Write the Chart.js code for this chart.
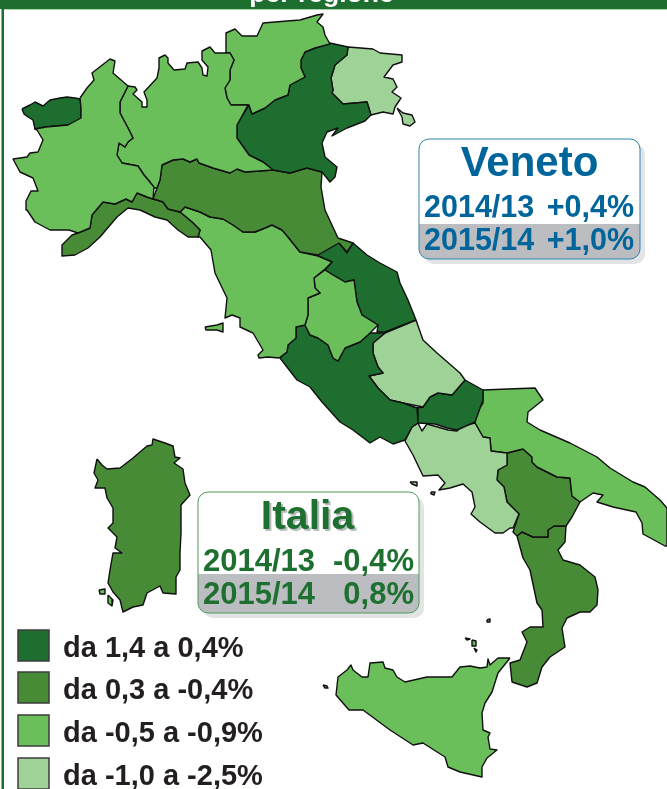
<!DOCTYPE html>
<html><head><meta charset="utf-8">
<style>html,body{margin:0;padding:0;background:#fff}canvas{display:block}</style>
<script src="https://cdn.jsdelivr.net/npm/chart.js@4"></script></head>
<body><canvas id="c" width="667" height="789"></canvas>
<script>
// Region outlines (x, y in map units)
const valleAosta=[22,109,30,105,35,102,43,106,50,100,60,98,67,97,75,98,80,99,81,108,81,118,76,122,68,125,55,126,46,127,35,129,33,120,28,117,24,114];
const piemonte=[80,98,87,88,94,80,92,73,110,59,115,61,113,73,128,86,120,102,120,113,128,128,133,138,128,142,125,147,119,143,117,155,122,163,138,166,144,175,154,187,153,199,147,197,137,193,132,202,126,199,115,204,103,202,92,215,90,228,78,233,69,230,50,230,35,222,27,210,26,201,31,191,38,191,33,178,20,172,13,159,27,157,30,153,38,152,43,140,37,130,35,129,46,127,68,125,81,118,81,108];
const lombardia=[128,86,135,87,137,90,133,94,142,102,142,107,147,107,147,100,144,92,157,78,159,68,159,58,165,55,168,58,168,63,174,70,185,69,187,63,198,62,202,68,203,75,207,76,208,67,202,60,202,51,210,47,215,53,230,53,234,60,230,70,230,80,225,88,227,98,231,105,248,105,237,125,237,138,249,155,263,162,273,170,245,172,237,169,230,173,213,168,199,163,197,159,190,162,183,159,173,160,162,165,160,180,157,188,153,188,150,182,144,175,138,166,122,163,117,155,119,143,125,147,128,142,133,138,128,128,120,113,120,102];
const trentino=[225,53,226,33,235,29,242,36,257,36,263,23,287,21,300,20,317,15,323,14,317,22,323,27,325,35,330,44,315,48,305,52,301,60,301,68,305,77,290,85,288,95,275,100,265,108,252,114,249,105,231,105,227,98,225,88,230,80,230,70,234,60,230,53];
const veneto=[330,43,348,47,347,55,335,65,331,78,333,90,332,93,343,104,367,102,371,115,365,121,347,128,332,136,338,128,327,132,322,143,325,157,337,167,335,177,330,182,322,172,307,168,290,173,273,170,263,162,249,155,237,138,237,125,249,105,252,114,265,108,275,100,288,95,290,85,305,77,301,68,301,60,305,52,315,48];
const friuli=[348,47,373,49,380,53,402,55,402,62,393,65,384,77,393,79,397,87,392,92,401,98,395,107,393,114,383,112,371,115,367,102,343,104,332,93,333,90,331,78,335,65,347,55];
const trieste=[397,108,403,113,412,115,415,122,410,126,403,124,402,117];
const emilia=[153,199,157,188,160,180,162,165,173,160,183,159,190,162,197,159,199,163,213,168,230,173,237,169,245,172,273,170,290,173,307,168,322,172,321,187,325,210,338,238,353,243,347,252,339,243,318,255,300,252,288,237,282,230,272,225,265,228,255,232,243,232,233,225,223,219,210,217,200,212,185,207,180,212,168,209,163,202,157,200];
const liguria=[153,199,147,197,137,193,132,202,126,199,115,204,103,202,92,215,90,228,78,233,72,235,62,245,62,256,75,255,88,248,100,237,117,217,128,208,140,210,155,217,167,220,178,230,188,237,198,237,200,230,192,222,180,212,168,209,163,202,157,200];
const toscana=[180,212,185,207,200,212,210,217,223,219,233,225,243,232,255,232,265,228,272,225,282,230,288,237,300,252,318,256,332,262,325,269,314,278,315,288,320,293,308,298,308,315,305,325,296,327,296,338,288,345,287,352,279,358,268,357,259,358,258,355,263,350,253,333,240,327,240,318,232,315,225,318,227,298,215,273,211,250,200,237,198,237,200,230,192,222];
const elba=[205,327,217,325,223,323,223,328,223,332,217,330,206,330];
const umbria=[325,270,333,275,345,282,354,280,357,302,362,315,378,325,370,333,360,342,345,348,338,361,333,358,328,345,318,338,310,335,305,325,308,315,308,298,320,293,315,288,314,278];
const marche=[318,256,318,252,332,245,339,243,347,253,353,243,367,255,380,263,397,272,400,283,408,300,416,320,385,332,377,332,378,325,362,315,357,302,354,280,345,282,333,275,325,270,332,262];
const abruzzo=[416,320,423,340,437,353,460,373,465,380,452,395,438,393,430,397,423,407,403,403,390,400,378,388,369,376,383,373,378,367,373,353,373,343,385,333];
const lazio=[296,327,305,325,310,335,318,338,328,345,333,358,338,361,345,348,360,342,370,333,385,333,373,343,373,353,378,367,383,373,369,376,378,388,390,400,403,403,417,408,418,423,412,427,405,440,393,444,380,437,370,443,353,430,340,422,322,402,310,387,297,380,280,358,287,352,288,345,296,338];
const molise=[465,380,483,390,483,400,475,422,457,430,447,428,435,424,418,423,417,408,423,407,430,397,438,393,452,395];
const campania=[418,423,422,431,427,424,448,430,457,431,462,426,475,423,483,437,490,438,491,451,507,453,507,465,498,470,497,480,504,487,507,502,519,514,513,528,510,528,503,533,495,533,480,522,471,514,475,507,472,492,463,484,450,488,439,490,445,483,438,475,423,476,413,455,405,441,412,427];
const puglia=[483,390,508,389,535,388,543,400,528,412,527,422,540,430,570,443,597,457,610,468,633,482,645,487,660,500,667,508,667,546,665,546,643,534,642,523,636,512,613,507,597,502,603,495,593,493,580,502,572,496,570,478,557,477,537,467,532,462,532,457,523,449,507,453,491,451,490,438,483,437,475,423,477,412,483,403];
const basilicata=[507,453,523,449,532,457,532,462,537,467,557,477,570,478,572,496,580,502,572,517,566,526,554,526,548,530,548,537,533,537,522,532,517,536,513,532,519,514,507,502,504,487,497,480,498,470,507,465];
const calabria=[517,536,522,532,533,537,548,537,548,530,554,526,566,526,565,542,558,550,563,560,580,565,595,577,598,590,597,605,590,612,580,612,567,618,562,628,565,647,550,657,542,667,537,683,527,687,512,682,510,663,520,660,527,642,522,632,530,627,543,627,542,610,537,603,530,570,523,558];
const sicilia=[510,658,498,658,490,665,488,659,487,667,480,668,470,666,460,667,452,677,443,677,427,677,405,682,397,677,393,670,385,668,383,662,370,663,368,677,362,677,353,670,351,665,347,670,338,677,336,695,349,710,363,710,390,730,413,745,423,743,445,757,448,767,460,772,482,777,482,767,487,758,497,750,490,749,488,737,490,733,483,730,482,713,485,703,492,692,498,673];
const egadi=[323,685,327,686,328,688,325,688];
const eolie1=[487,620,490,619,490,622,487,622];
const eolie2=[465,638,470,639,467,640];
const eolie3=[472,640,476,641,476,646,472,646];
const eolie4=[474,648,477,650,476,652];
const ischia=[410,482,417,482,417,486,412,484];
const capri=[431,492,435,492,434,495,432,494];
const sardegna=[97,459,102,465,107,469,120,468,133,458,147,446,152,445,153,439,165,443,173,446,175,457,180,458,174,463,183,469,185,483,190,495,181,505,181,533,180,553,180,570,176,577,176,594,163,593,160,586,147,593,143,605,133,607,123,612,120,600,113,592,108,583,110,570,113,553,122,553,115,548,117,537,108,528,113,523,113,508,107,498,105,488,95,488,98,480,94,473];
const asinara=[99,590,105,589,105,594,100,594];
const sanPietro=[108,595,113,600,112,606,108,603];

const regionShapes=[piemonte,valleAosta,lombardia,trentino,veneto,friuli,trieste,emilia,liguria,toscana,elba,umbria,marche,lazio,abruzzo,molise,campania,puglia,basilicata,calabria,sicilia,egadi,eolie1,eolie2,eolie3,eolie4,ischia,capri,sardegna,asinara,sanPietro];
const regionClass=[2,0,2,2,0,3,3,1,1,2,2,2,0,0,3,0,3,2,1,1,2,2,2,2,2,2,3,3,1,2,2];
const classColors=['#1d6e2f','#478b36','#6bbf5a','#9fd297'];
const legendLabels=['da 1,4 a 0,4%','da 0,3 a -0,4%','da -0,5 a -0,9%','da -1,0 a -2,5%'];
const headerText='per regione';
const venetoTitle='Veneto';
const venetoRows=[['2014/13','+0,4%'],['2015/14','+1,0%']];
const italiaTitle='Italia';
const italiaRows=[['2014/13','-0,4%'],['2015/14','0,8%']];

function toPoints(a){const p=[];for(let i=0;i<a.length;i+=2)p.push({x:a[i],y:a[i+1]});p.push({x:a[0],y:a[1]});return p;}
const FONT='"Liberation Sans",Arial,sans-serif';

function box(ctx,x,y,w,h,bandY,color,title,rows,opt){
  const r=10;
  ctx.save();
  ctx.fillStyle='#e3e4e6';
  ctx.beginPath();ctx.roundRect(x+5,y+5,w,h,r);ctx.fill();
  ctx.beginPath();ctx.roundRect(x,y,w,h,r);ctx.fillStyle='#fff';ctx.fill();
  ctx.save();ctx.clip();ctx.fillStyle='#bcbdc1';ctx.fillRect(x,bandY,w,y+h-bandY);ctx.restore();
  ctx.beginPath();ctx.roundRect(x,y,w,h,r);ctx.lineWidth=1;ctx.strokeStyle=opt.border;ctx.stroke();
  ctx.textBaseline='alphabetic';
  ctx.font='bold '+opt.titleSize+'px '+FONT;ctx.textAlign='center';
  if(opt.shadow){ctx.fillStyle='#b9bcbc';ctx.fillText(title,opt.titleX+2,opt.titleY+2);}
  ctx.fillStyle=color;ctx.fillText(title,opt.titleX,opt.titleY);
  ctx.font='bold '+opt.rowSize+'px '+FONT;
  rows.forEach((row,i)=>{
    ctx.textAlign='left';ctx.fillText(row[0],opt.left,opt.rowY[i]);
    ctx.textAlign='right';ctx.fillText(row[1],opt.right,opt.rowY[i]);
  });
  ctx.restore();
}
const frame={id:'frame',
  beforeDatasetsDraw(ch){const c=ch.ctx;c.save();
    c.fillStyle='#1d6e2f';c.fillRect(0,0,667,9);c.fillRect(1.5,0,2.5,789);
    c.fillStyle='#a9d5a6';c.fillRect(4,9,663,1);
    c.fillStyle='#fff';c.font='bold 26.5px '+FONT;c.textAlign='center';c.textBaseline='alphabetic';
    c.fillText(headerText,321.5,2);
    c.restore();},
  afterDatasetsDraw(ch){const c=ch.ctx;
    box(c,419,139,221,120,224,'#00659b',venetoTitle,venetoRows,{border:'#2f83b0',titleX:529.5,titleSize:42,titleY:176,rowSize:30.5,rowY:[217,250],left:424,right:634});
    box(c,198,492,221,121,574,'#1d7030',italiaTitle,italiaRows,{border:'#4f9a5b',titleX:307.5,titleSize:41,titleY:529,rowSize:31,rowY:[571,604],left:203,right:414,shadow:true});
    c.save();
    const ys=[630,672,715,758];
    legendLabels.forEach((t,i)=>{
      c.fillStyle=classColors[i];c.fillRect(18,ys[i],31,31);
      c.strokeStyle='#3c3c3c';c.lineWidth=1.5;c.strokeRect(18,ys[i],31,31);
      c.fillStyle='#231f20';c.font='bold 29px '+FONT;c.textAlign='left';c.textBaseline='alphabetic';
      c.fillText(t,63,ys[i]+27);
    });
    c.restore();
  }};
new Chart(document.getElementById('c'),{
  type:'scatter',
  data:{datasets:regionShapes.map((s,i)=>({
    data:toPoints(s),showLine:true,fill:'shape',tension:0,pointRadius:0,
    backgroundColor:classColors[regionClass[i]],borderColor:'#101010',borderWidth:1.4,borderJoinStyle:'round'
  }))},
  options:{responsive:false,animation:false,events:[],
    layout:{padding:0},
    plugins:{legend:{display:false},tooltip:{enabled:false},title:{display:false}},
    scales:{x:{type:'linear',min:0,max:667,display:false},y:{type:'linear',min:0,max:789,reverse:true,display:false}}},
  plugins:[frame]
});
</script></body></html>
